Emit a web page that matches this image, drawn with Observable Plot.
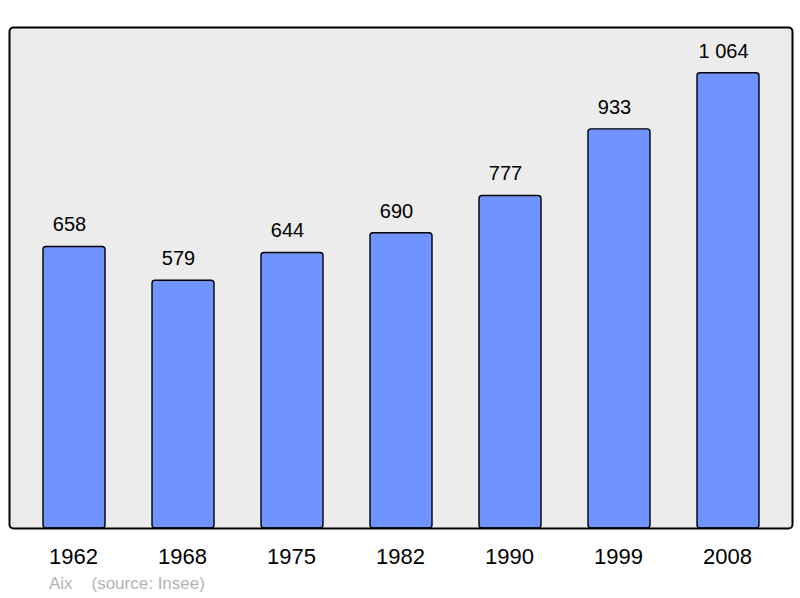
<!DOCTYPE html>
<html>
<head>
<meta charset="utf-8">
<script src="https://cdn.jsdelivr.net/npm/d3@7"></script>
<script src="https://cdn.jsdelivr.net/npm/@observablehq/plot@0.6"></script>
<style>
  body { margin: 0; background: #fff; font-family: "Liberation Sans", Arial, sans-serif; }
  #wrap { position: relative; width: 800px; height: 598px; }
  #cap { position: absolute; left: 49px; top: 572px; font-size: 17px; line-height: 24px; color: #b3b3b3; white-space: pre; }
</style>
</head>
<body>
<div id="wrap"><div id="chart"></div><div id="cap">Aix    (source: Insee)</div></div>
<script>
const years = ["1962", "1968", "1975", "1982", "1990", "1999", "2008"];
const population = [658, 579, 644, 690, 777, 933, 1064];

const data = years.map((y, i) => ({year: y, pop: population[i]}));
const fmt = d3.formatLocale({thousands: " ", grouping: [3], decimal: ","}).format(",d");

const chart = Plot.plot({
  width: 800,
  height: 570,
  marginTop: 27,
  marginBottom: 42,
  marginLeft: 9,
  marginRight: 8,
  style: {fontFamily: "Liberation Sans, Arial, sans-serif", background: "transparent"},
  x: {domain: years, range: [41.75, 760.75], padding: 0.4287, paddingOuter: 0, label: null},
  y: {domain: [0, 1171], axis: null},
  marks: [
    Plot.frame({fill: "#ececec", stroke: "none"}),
    Plot.barY(data, {x: "year", y: "pop", fill: "#7094ff", stroke: "#000", strokeWidth: 1.4, rx: 3}),
    Plot.text(data, {x: "year", y: "pop", text: d => fmt(d.pop), dy: -22, dx: -5, fontSize: 20, fill: "#000"}),
    Plot.axisX({tickSize: 0, tickPadding: 20, fontSize: 22, label: null, fill: "#000", dx: -1}),
    Plot.frame({stroke: "#000", strokeWidth: 2, rx: 4, fill: "none"})
  ]
});
document.getElementById("chart").appendChild(chart);
</script>
</body>
</html>
